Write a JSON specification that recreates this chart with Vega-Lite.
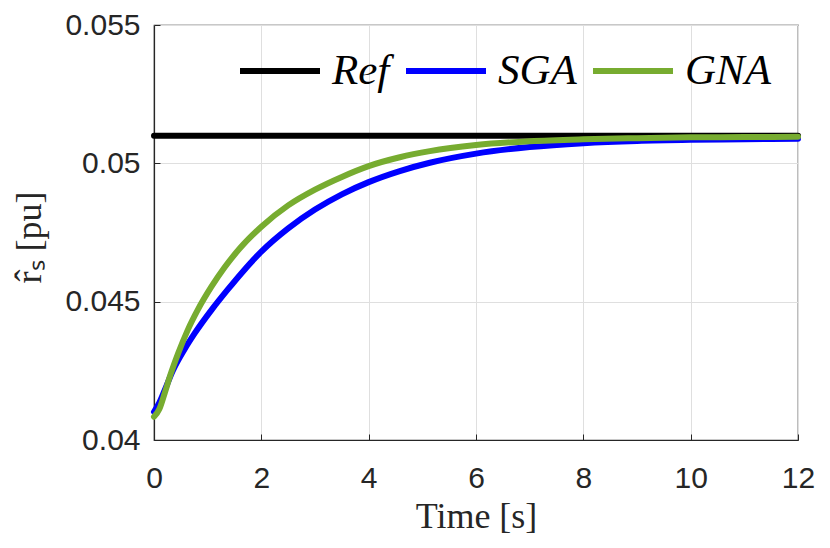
{
  "$schema": "https://vega.github.io/schema/vega-lite/v6.json",
  "width": 644,
  "height": 415,
  "autosize": {"type": "none"},
  "padding": {"left": 154, "top": 25, "right": 32, "bottom": 108},
  "background": "white",
  "config": {
    "view": {"stroke": "#262626", "strokeWidth": 1.2},
    "axis": {
      "labelFont": "Liberation Sans",
      "labelFontSize": 30,
      "labelColor": "#262626",
      "labelFlush": false,
      "domainColor": "#262626",
      "domainWidth": 1.2,
      "tickColor": "#262626",
      "tickSize": -6,
      "gridColor": "#dfdfdf",
      "gridWidth": 1,
      "titleFont": "Liberation Serif",
      "titleFontWeight": "normal",
      "titleFontSize": 36,
      "titleColor": "#262626"
    }
  },
  "data": {
    "values": [
      {"t": 0, "v": 0.051, "s": "Ref"},
      {"t": 12, "v": 0.051, "s": "Ref"},
      {"t": 0, "v": 0.04102, "s": "SGA"},
      {"t": 0.1, "v": 0.04135, "s": "SGA"},
      {"t": 0.2, "v": 0.0418, "s": "SGA"},
      {"t": 0.35, "v": 0.0425, "s": "SGA"},
      {"t": 0.57, "v": 0.04328, "s": "SGA"},
      {"t": 0.76, "v": 0.04386, "s": "SGA"},
      {"t": 1.08, "v": 0.04472, "s": "SGA"},
      {"t": 1.38, "v": 0.04545, "s": "SGA"},
      {"t": 1.63, "v": 0.04603, "s": "SGA"},
      {"t": 2, "v": 0.04681, "s": "SGA"},
      {"t": 2.5, "v": 0.04765, "s": "SGA"},
      {"t": 3, "v": 0.04833, "s": "SGA"},
      {"t": 3.5, "v": 0.04888, "s": "SGA"},
      {"t": 4, "v": 0.04932, "s": "SGA"},
      {"t": 4.58, "v": 0.04972, "s": "SGA"},
      {"t": 5.14, "v": 0.05002, "s": "SGA"},
      {"t": 6, "v": 0.05035, "s": "SGA"},
      {"t": 7, "v": 0.05059, "s": "SGA"},
      {"t": 8, "v": 0.05073, "s": "SGA"},
      {"t": 9, "v": 0.05081, "s": "SGA"},
      {"t": 10, "v": 0.05085, "s": "SGA"},
      {"t": 11, "v": 0.05087, "s": "SGA"},
      {"t": 12, "v": 0.05089, "s": "SGA"},
      {"t": 0, "v": 0.04084, "s": "GNA"},
      {"t": 0.1, "v": 0.04112, "s": "GNA"},
      {"t": 0.2, "v": 0.0417, "s": "GNA"},
      {"t": 0.3, "v": 0.04232, "s": "GNA"},
      {"t": 0.45, "v": 0.04313, "s": "GNA"},
      {"t": 0.63, "v": 0.04398, "s": "GNA"},
      {"t": 0.82, "v": 0.04472, "s": "GNA"},
      {"t": 1.07, "v": 0.04554, "s": "GNA"},
      {"t": 1.32, "v": 0.04625, "s": "GNA"},
      {"t": 1.6, "v": 0.04693, "s": "GNA"},
      {"t": 2, "v": 0.04771, "s": "GNA"},
      {"t": 2.5, "v": 0.04848, "s": "GNA"},
      {"t": 3, "v": 0.04905, "s": "GNA"},
      {"t": 3.5, "v": 0.04951, "s": "GNA"},
      {"t": 4, "v": 0.0499, "s": "GNA"},
      {"t": 4.58, "v": 0.05022, "s": "GNA"},
      {"t": 5.14, "v": 0.05044, "s": "GNA"},
      {"t": 6, "v": 0.05066, "s": "GNA"},
      {"t": 7, "v": 0.0508, "s": "GNA"},
      {"t": 8, "v": 0.05087, "s": "GNA"},
      {"t": 9, "v": 0.05091, "s": "GNA"},
      {"t": 10, "v": 0.05094, "s": "GNA"},
      {"t": 11, "v": 0.05095, "s": "GNA"},
      {"t": 12, "v": 0.05096, "s": "GNA"}
    ]
  },
  "mark": {"type": "line", "strokeWidth": 6, "interpolate": "monotone", "strokeCap": "round"},
  "encoding": {
    "x": {
      "field": "t",
      "type": "quantitative",
      "title": "Time [s]",
      "scale": {"domain": [0, 12], "nice": false},
      "axis": {"values": [0, 2, 4, 6, 8, 10, 12], "labelPadding": 29, "titleBaseline": "alphabetic", "titleY": 87}
    },
    "y": {
      "field": "v",
      "type": "quantitative",
      "title": "r̂ₛ [pu]",
      "scale": {"domain": [0.04, 0.055], "nice": false, "zero": false},
      "axis": {"values": [0.04, 0.045, 0.05, 0.055], "format": "~g", "labelPadding": 20, "titleBaseline": "alphabetic", "titleX": -114, "titleY": 212}
    },
    "color": {
      "field": "s",
      "type": "nominal",
      "sort": ["Ref", "SGA", "GNA"],
      "scale": {"domain": ["Ref", "SGA", "GNA"], "range": ["#000000", "#0000ff", "#77ac30"]},
      "legend": {
        "title": null,
        "orient": "none",
        "legendX": 83,
        "legendY": 3,
        "padding": 0,
        "direction": "horizontal",
        "gridAlign": "none",
        "symbolType": "stroke",
        "symbolStrokeWidth": 6,
        "symbolSize": 6400,
        "labelFont": "Liberation Serif",
        "labelFontStyle": "italic",
        "labelFontSize": 43,
        "labelColor": "#000000",
        "columnPadding": 4,
        "labelOffset": 9
      }
    },
    "order": {"field": "t", "type": "quantitative"}
  }
}
